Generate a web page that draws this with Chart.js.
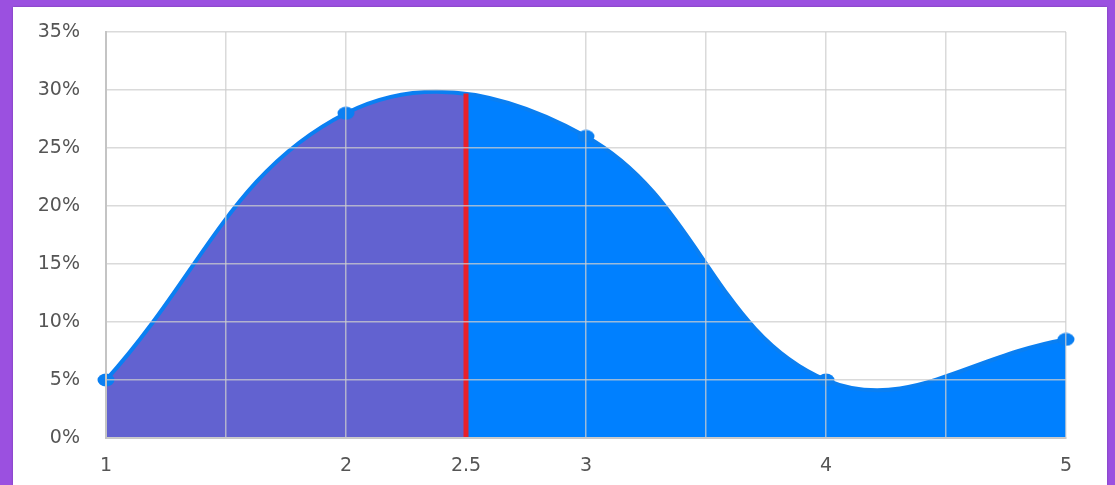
<!DOCTYPE html>
<html>
<head>
<meta charset="utf-8">
<script src="https://cdn.jsdelivr.net/npm/chart.js@4.4.1/dist/chart.umd.min.js"></script>
<style>
  html, body { margin: 0; padding: 0; }
  body { width: 1115px; height: 485px; background: #9b50e0; position: relative; overflow: hidden; }
  #panel { position: absolute; left: 13px; top: 7px; width: 1094px; height: 478px; background: #fff; box-shadow: 0 0 2px rgba(0,0,0,0.25); }
  #wrap { position: absolute; left: 0; top: 0; width: 1094px; height: 478px; }
</style>
</head>
<body>
<div id="panel"><div id="wrap"><canvas id="c"></canvas></div></div>
<script>
// ---- data ----
const xValues = [1, 2, 3, 4, 5];
const yValues = [5, 28, 26, 5, 8.5];          // percent
const xTickLabels = [1, 2, 2.5, 3, 4, 5];
const splitX = 2.5;
const splitLine = [0, 29.7];                  // percent, bottom and top of the red marker
const yMin = 0, yMax = 35, yStep = 5;
const xMin = 1, xMax = 5, xStep = 0.5;

// ---- styles ----
const leftFill = '#6262d0';
const rightFill = '#0080ff';
const lineColor = '#0a7ff2';
const gridColor = 'rgba(205,205,205,0.75)';
const tickColor = '#555';
const tickFont = { family: 'DejaVu Sans', size: 19 };

// elliptical point marker
const pt = document.createElement('canvas');
pt.width = 18; pt.height = 14;
(function () {
  const g = pt.getContext('2d');
  g.fillStyle = lineColor;
  g.beginPath();
  g.ellipse(9, 7, 8.5, 6.5, 0, 0, Math.PI * 2);
  g.fill();
})();

function splitFill(context) {
  const chart = context.chart;
  const area = chart.chartArea;
  if (!area) return rightFill;
  const px = chart.scales.x.getPixelForValue(splitX);
  const r = Math.min(Math.max((px - area.left) / (area.right - area.left), 0), 1);
  const grad = chart.ctx.createLinearGradient(area.left, 0, area.right, 0);
  grad.addColorStop(0, leftFill);
  grad.addColorStop(r, leftFill);
  grad.addColorStop(r, rightFill);
  grad.addColorStop(1, rightFill);
  return grad;
}

new Chart(document.getElementById('c'), {
  type: 'line',
  data: {
    datasets: [
      {
        label: 'split',
        data: splitLine.map(v => ({ x: splitX, y: v })),
        borderColor: '#e8202a',
        borderWidth: 5,
        pointRadius: 0,
        fill: false,
        tension: 0,
        order: 0
      },
      {
        label: 'series',
        data: xValues.map((x, i) => ({ x: x, y: yValues[i] })),
        borderColor: lineColor,
        borderWidth: 4,
        backgroundColor: splitFill,
        fill: 'origin',
        tension: 0.4,
        pointStyle: pt,
        pointRadius: 8,
        pointHoverRadius: 8,
        clip: false,
        order: 1
      }
    ]
  },
  options: {
    responsive: true,
    maintainAspectRatio: false,
    animation: false,
    events: [],
    layout: { padding: { left: 0, right: 41, top: 25, bottom: 0 } },
    plugins: { legend: { display: false }, tooltip: { enabled: false }, title: { display: false } },
    scales: {
      x: {
        type: 'linear',
        min: xMin, max: xMax,
        afterFit: s => { s.height = 47; s.paddingLeft = 0; s.paddingRight = 0; },
        border: { display: true, color: '#c4c4c4', width: 2, z: 1 },
        grid: {
          color: c => (c.tick && c.tick.value === splitX) ? 'rgba(0,0,0,0)' : gridColor,
          lineWidth: 1.5, drawTicks: false, z: 1
        },
        ticks: {
          stepSize: xStep,
          autoSkip: false,
          maxRotation: 0,
          padding: 17,
          color: tickColor,
          font: tickFont,
          callback: v => xTickLabels.includes(v) ? String(v) : ''
        }
      },
      y: {
        min: yMin, max: yMax,
        afterFit: s => { s.width = 93; s.paddingTop = 0; s.paddingBottom = 0; },
        border: { display: true, color: '#c4c4c4', width: 2, z: 1 },
        grid: { color: gridColor, lineWidth: 1.5, drawTicks: false, z: 1 },
        ticks: {
          stepSize: yStep,
          padding: 26,
          color: tickColor,
          font: tickFont,
          callback: v => v + '%'
        }
      }
    }
  }
});
</script>
</body>
</html>
